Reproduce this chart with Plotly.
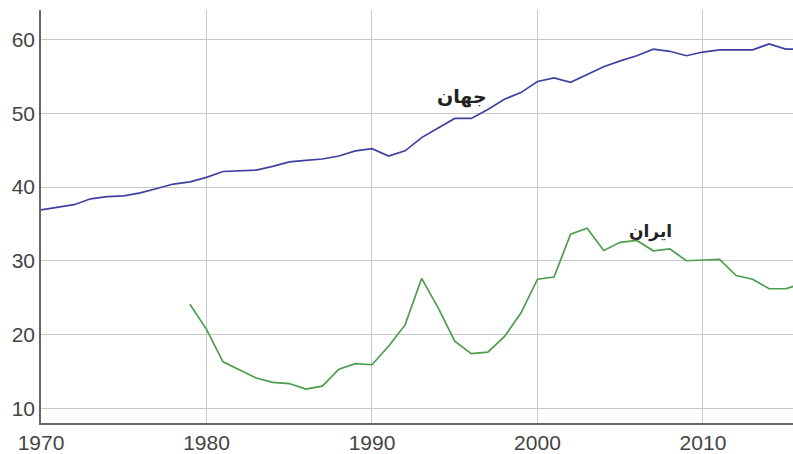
import plotly.graph_objects as go

years_world = list(range(1970, 2017))
world = [36.9, 37.3, 37.6, 38.4, 38.7, 38.8, 39.2, 39.8, 40.4, 40.7,
         41.3, 42.1, 42.2, 42.3, 42.8, 43.4, 43.6, 43.8, 44.2, 44.9,
         45.2, 44.2, 44.9, 46.7, 48.0, 49.3, 49.3, 50.5, 51.9, 52.8,
         54.3, 54.8, 54.2, 55.2, 56.3, 57.1, 57.8, 58.7, 58.4, 57.8,
         58.3, 58.6, 58.6, 58.6, 59.4, 58.7, 58.7]

years_iran = list(range(1979, 2017))
iran = [24.1, 20.7, 16.3, 15.25, 14.1, 13.5, 13.35, 12.6, 13.0, 15.3,
        16.05, 15.9, 18.4, 21.3, 27.6, 23.6, 19.1, 17.4, 17.6, 19.7,
        22.9, 27.5, 27.8, 33.6, 34.4, 31.4, 32.5, 32.75, 31.35, 31.6,
        30.0, 30.1, 30.2, 28.0, 27.5, 26.2, 26.2, 26.9]

label_world = "جهان"
label_iran = "ایران"

fig = go.Figure()
fig.add_trace(go.Scatter(x=years_world, y=world, mode="lines",
                         line=dict(color="#4040a0", width=1.7), showlegend=False))
fig.add_trace(go.Scatter(x=years_iran, y=iran, mode="lines",
                         line=dict(color="#4c9e4c", width=1.7), showlegend=False))

fig.add_annotation(x=1995.44, y=52.3, text="<b>" + label_world + "</b>", showarrow=False,
                   font=dict(family="DejaVu Sans", size=19, color="#222222"))
fig.add_annotation(x=2006.8, y=34.0, text="<b>" + label_iran + "</b>", showarrow=False,
                   font=dict(family="DejaVu Sans", size=17, color="#222222"))

fig.update_layout(
    width=793, height=454,
    margin=dict(l=41, r=0, t=10, b=31),
    paper_bgcolor="white", plot_bgcolor="white",
    font=dict(family="Liberation Sans, Arial, sans-serif", size=21, color="#444444"),
)
fig.update_xaxes(range=[1970, 2015.44], tickvals=[1970, 1980, 1990, 2000, 2010],
                 showgrid=True, gridcolor="#c8c8c8", gridwidth=1,
                 showline=True, linecolor="#666666", linewidth=1.5,
                 ticks="", ticklen=0, zeroline=False, automargin=False)
fig.update_yaxes(range=[8, 64], tickvals=[10, 20, 30, 40, 50, 60],
                 showgrid=True, gridcolor="#c8c8c8", gridwidth=1,
                 showline=True, linecolor="#666666", linewidth=1.5,
                 ticks="", zeroline=False, automargin=False)

fig.write_html(
    "out.html",
    config={"displayModeBar": False},
    post_script="document.body.style.margin='0';document.body.style.overflow='hidden';",
)
